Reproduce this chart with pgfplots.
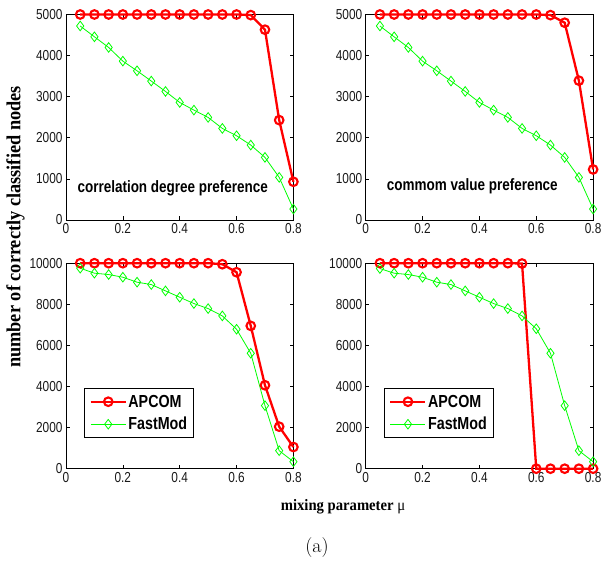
\documentclass[border=0pt]{standalone}
\usepackage{pgfplots}
\pgfplotsset{compat=1.18}
\usepackage{fontspec}
\newfontfamily\armn[FakeStretch=0.82]{Liberation Sans}
\newfontfamily\tms[FakeStretch=0.92]{Liberation Serif}
\definecolor{mred}{RGB}{255,0,0}
\definecolor{mgreen}{RGB}{0,255,0}
\pgfplotsset{
  mstyle/.style={
    scale only axis, width=227.4bp, height=205.5bp,
    anchor=south west, clip=false,
    xmin=0, xmax=0.8, xtick={0,0.2,0.4,0.6,0.8},
    tick align=inside, xtick pos=both, ytick pos=both,
    major tick length=3.5bp,
    axis line style={line width=0.8bp, black},
    tick style={line width=0.6bp, black},
    ticklabel style={font=\armn\fontsize{14.5}{14.5}\selectfont, text=black!90},
    /pgf/number format/assume math mode=true,
    /pgf/number format/1000 sep={},
    scaled ticks=false,
    legend image code/.code={\draw[mark repeat=2,mark phase=2,##1] plot coordinates {(0bp,0bp) (17.5bp,0bp) (35bp,0bp)};},
  },
  apc/.style={color=mred, line width=2.3bp, mark=o, mark size=4.3bp, mark options={line width=2.1bp}},
  fmd/.style={color=mgreen, line width=0.8bp, mark=diamond, mark size=4.8bp, mark options={line width=0.8bp}},
  leg/.style={legend style={at={(0.08,0.15)}, anchor=south west, draw=black, line width=0.8bp,
      fill=white, inner xsep=5bp, inner ysep=5bp, row sep=6bp,
      font=\armn\bfseries\fontsize{17.5}{17.5}\selectfont,
      nodes={inner sep=1.5bp, text height=12.5bp, text depth=1bp}},
      legend cell align=left,
      /tikz/every even column/.append style={column sep=2bp}},
}
\pgfplotstableread{
x apc fmd
0.05 5000 4720
0.10 5000 4457
0.15 5000 4198
0.20 5000 3865
0.25 5000 3630
0.30 5000 3380
0.35 5000 3128
0.40 5000 2860
0.45 5000 2674
0.50 5000 2496
0.55 5000 2228
0.60 5000 2050
0.65 4985 1823
0.70 4630 1523
0.75 2430 1037
0.80 930 267
}\tA
\pgfplotstableread{
x apc fmd
0.05 5000 4720
0.10 5000 4457
0.15 5000 4198
0.20 5000 3865
0.25 5000 3630
0.30 5000 3380
0.35 5000 3128
0.40 5000 2860
0.45 5000 2674
0.50 5000 2496
0.55 5000 2228
0.60 5000 2050
0.65 4985 1823
0.70 4800 1523
0.75 3390 1037
0.80 1230 267
}\tB
\pgfplotstableread{
x apc fmd
0.05 10000 9756
0.10 10000 9513
0.15 10000 9448
0.20 10000 9318
0.25 10000 9075
0.30 10000 8961
0.35 10000 8653
0.40 10000 8344
0.45 10000 8036
0.50 10000 7792
0.55 9950 7435
0.60 9560 6786
0.65 6950 5617
0.70 4060 3068
0.75 2045 877
0.80 1055 341
}\tC
\pgfplotstableread{
x apc fmd
0.05 10000 9740
0.10 10000 9513
0.15 10000 9448
0.20 10000 9318
0.25 10000 9075
0.30 10000 8961
0.35 10000 8653
0.40 10000 8344
0.45 10000 8036
0.50 10000 7792
0.55 9985 7435
0.60 0 6810
0.65 0 5617
0.70 0 3068
0.75 0 877
0.80 0 341
}\tD
\begin{document}
\begin{tikzpicture}[x=1bp,y=1bp]
\path[use as bounding box] (0,0) rectangle (603,564);
% top left
\begin{axis}[mstyle, at={(66bp,344bp)}, ymin=0, ymax=5000, ytick={0,1000,...,5000}]
\addplot[apc] table[x=x,y=apc] {\tA};
\addplot[fmd] table[x=x,y=fmd] {\tA};
\node[anchor=base west, inner sep=0pt, font=\armn\bfseries\fontsize{16.5}{16.5}\selectfont] at (axis cs:0.04,664) {correlation degree preference};
\end{axis}
% top right
\begin{axis}[mstyle, at={(365.7bp,344bp)}, ymin=0, ymax=5000, ytick={0,1000,...,5000}]
\addplot[apc] table[x=x,y=apc] {\tB};
\addplot[fmd] table[x=x,y=fmd] {\tB};
\node[anchor=base west, inner sep=0pt, font=\armn\bfseries\fontsize{16.5}{16.5}\selectfont] at (axis cs:0.074,713) {commom value preference};
\end{axis}
% bottom left
\begin{axis}[mstyle, leg, at={(66bp,95.3bp)}, ymin=0, ymax=10000, ytick={0,2000,...,10000}]
\addplot[apc] table[x=x,y=apc] {\tC};
\addplot[fmd] table[x=x,y=fmd] {\tC};
\legend{APCOM,FastMod}
\end{axis}
% bottom right
\begin{axis}[mstyle, leg, at={(365.7bp,95.3bp)}, ymin=0, ymax=10000, ytick={0,2000,...,10000}]
\addplot[apc] table[x=x,y=apc] {\tD};
\addplot[fmd] table[x=x,y=fmd] {\tD};
\legend{APCOM,FastMod}
\end{axis}
\node[rotate=90, font=\tms\bfseries\fontsize{20}{20}\selectfont] at (15.5,337) {number of correctly classified nodes};
\node[font=\tms\bfseries\fontsize{16}{16}\selectfont] at (343,57) {mixing parameter {\mdseries μ}};
\node[font=\fontsize{20}{20}\selectfont] at (317,16) {(a)};
\end{tikzpicture}
\end{document}
